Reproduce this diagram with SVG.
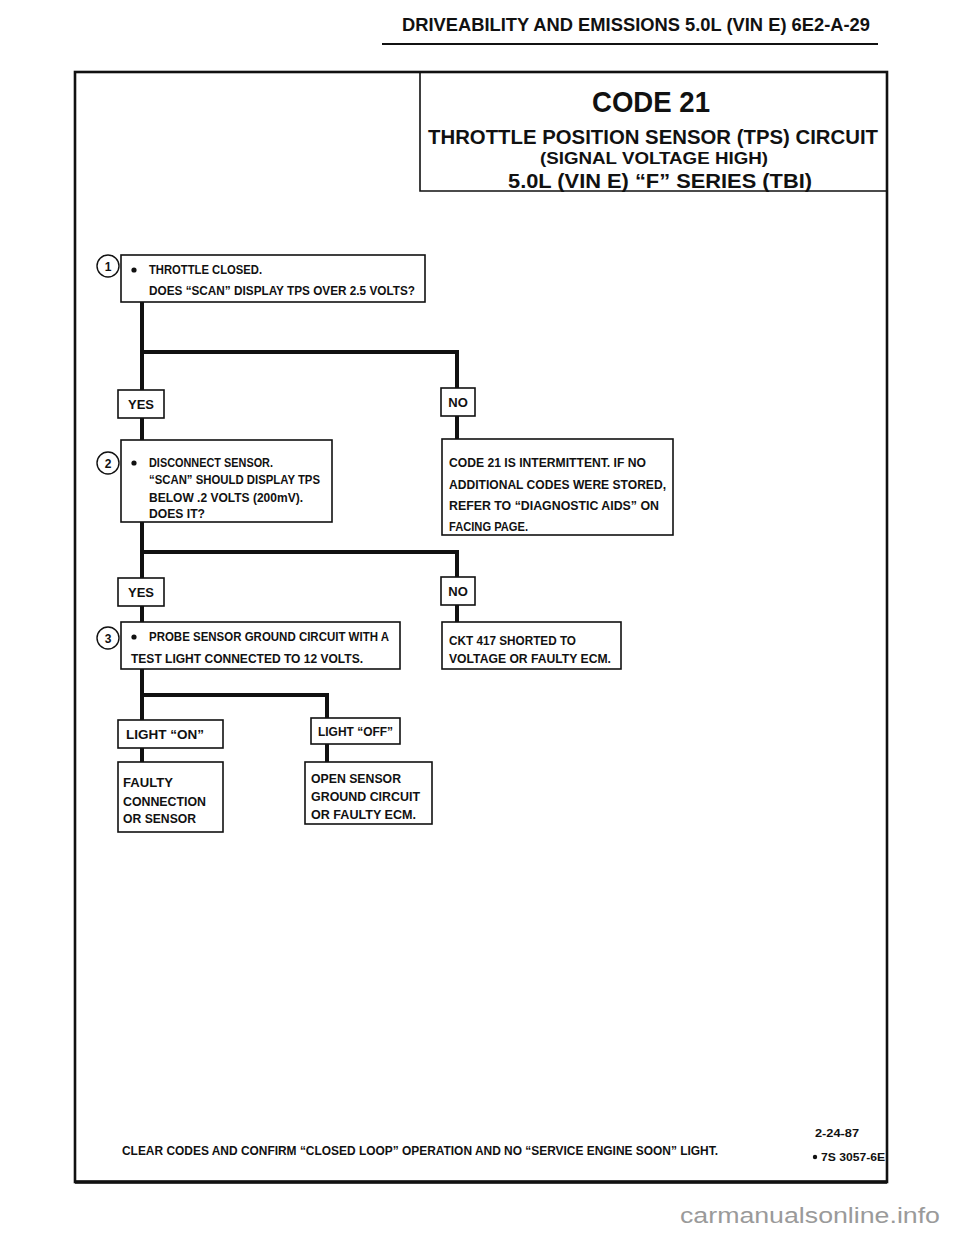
<svg xmlns="http://www.w3.org/2000/svg" width="960" height="1242" viewBox="0 0 960 1242">
<style>
.t{font-family:"Liberation Sans Narrow","Liberation Sans",Arial,sans-serif;font-weight:bold;fill:#111}
.s{font-size:13px}
.box{fill:#fff;stroke:#111;stroke-width:1.6}
.c{fill:#fff;stroke:#111;stroke-width:1.4}
.ln{fill:none;stroke:#111;stroke-width:4;stroke-linejoin:miter}
</style>
<rect width="960" height="1242" fill="#fff"/>
<g id="header">
<text class="t" x="402" y="31" font-size="19" textLength="468" lengthAdjust="spacingAndGlyphs">DRIVEABILITY AND EMISSIONS  5.0L  (VIN E)  6E2-A-29</text>
<line x1="382" y1="44" x2="878" y2="44" stroke="#111" stroke-width="2.2"/>
</g>
<g id="frame">
<rect x="75" y="72" width="812" height="1110" fill="none" stroke="#111" stroke-width="2.6"/>
<line x1="75" y1="1182" x2="887" y2="1182" stroke="#111" stroke-width="3.5"/>
</g>
<g id="title">
<polyline points="420,72 420,191 887,191" fill="none" stroke="#111" stroke-width="1.6"/>
<text class="t" x="592" y="112" font-size="30" textLength="118" lengthAdjust="spacingAndGlyphs">CODE 21</text>
<text class="t" x="428" y="144" font-size="21" textLength="450" lengthAdjust="spacingAndGlyphs">THROTTLE POSITION SENSOR (TPS) CIRCUIT</text>
<text class="t" x="540" y="164" font-size="16" textLength="228" lengthAdjust="spacingAndGlyphs">(SIGNAL VOLTAGE HIGH)</text>
<text class="t" x="508" y="188" font-size="21" textLength="304" lengthAdjust="spacingAndGlyphs">5.0L (VIN E)  “F” SERIES  (TBI)</text>
</g>
<g id="connectors">
<polyline class="ln" points="142,302 142,390"/>
<polyline class="ln" points="142,352 457,352 457,388"/>
<polyline class="ln" points="142,418 142,440"/>
<polyline class="ln" points="457,416 457,439"/>
<polyline class="ln" points="142,522 142,578"/>
<polyline class="ln" points="142,552 457,552 457,577"/>
<polyline class="ln" points="142,606 142,622"/>
<polyline class="ln" points="457,605 457,622"/>
<polyline class="ln" points="142,669 142,720"/>
<polyline class="ln" points="142,695 327,695 327,718"/>
<polyline class="ln" points="142,748 142,762"/>
<polyline class="ln" points="327,744 327,762"/>
</g>
<g id="step1">
<circle class="c" cx="108" cy="266" r="11"/>
<text class="t" x="108" y="270.5" font-size="12" text-anchor="middle">1</text>
<rect class="box" x="121" y="255" width="304" height="47"/>
<circle cx="134" cy="270" r="2.6" fill="#111"/>
<text class="t s" x="149" y="274" textLength="113" lengthAdjust="spacingAndGlyphs">THROTTLE CLOSED.</text>
<text class="t s" x="149" y="295" textLength="266" lengthAdjust="spacingAndGlyphs">DOES “SCAN” DISPLAY TPS OVER 2.5 VOLTS?</text>
</g>
<g id="yes1">
<rect class="box" x="118" y="390" width="46" height="28"/>
<text class="t s" x="141" y="409" text-anchor="middle">YES</text>
</g>
<g id="no1">
<rect class="box" x="441" y="388" width="34" height="28"/>
<text class="t s" x="458" y="407" text-anchor="middle">NO</text>
</g>
<g id="step2">
<circle class="c" cx="108" cy="463" r="11"/>
<text class="t" x="108" y="467.5" font-size="12" text-anchor="middle">2</text>
<rect class="box" x="121" y="440" width="211" height="82"/>
<circle cx="134" cy="463" r="2.6" fill="#111"/>
<text class="t s" x="149" y="467" textLength="124" lengthAdjust="spacingAndGlyphs">DISCONNECT SENSOR.</text>
<text class="t s" x="149" y="484" textLength="171" lengthAdjust="spacingAndGlyphs">“SCAN” SHOULD DISPLAY TPS</text>
<text class="t s" x="149" y="502" textLength="154" lengthAdjust="spacingAndGlyphs">BELOW  .2 VOLTS (200mV).</text>
<text class="t s" x="149" y="518" textLength="56" lengthAdjust="spacingAndGlyphs">DOES IT?</text>
</g>
<g id="intermittent">
<rect class="box" x="442" y="439" width="231" height="96"/>
<text class="t s" x="449" y="467" textLength="197" lengthAdjust="spacingAndGlyphs">CODE 21 IS INTERMITTENT.  IF NO</text>
<text class="t s" x="449" y="489" textLength="217" lengthAdjust="spacingAndGlyphs">ADDITIONAL CODES WERE STORED,</text>
<text class="t s" x="449" y="510" textLength="210" lengthAdjust="spacingAndGlyphs">REFER TO  “DIAGNOSTIC AIDS” ON</text>
<text class="t s" x="449" y="531" textLength="79" lengthAdjust="spacingAndGlyphs">FACING PAGE.</text>
</g>
<g id="yes2">
<rect class="box" x="118" y="578" width="46" height="28"/>
<text class="t s" x="141" y="597" text-anchor="middle">YES</text>
</g>
<g id="no2">
<rect class="box" x="441" y="577" width="34" height="28"/>
<text class="t s" x="458" y="596" text-anchor="middle">NO</text>
</g>
<g id="step3">
<circle class="c" cx="108" cy="638" r="11"/>
<text class="t" x="108" y="642.5" font-size="12" text-anchor="middle">3</text>
<rect class="box" x="121" y="622" width="279" height="47"/>
<circle cx="134" cy="637" r="2.6" fill="#111"/>
<text class="t s" x="149" y="641" textLength="240" lengthAdjust="spacingAndGlyphs">PROBE SENSOR GROUND CIRCUIT WITH A</text>
<text class="t s" x="131" y="663" textLength="232" lengthAdjust="spacingAndGlyphs">TEST LIGHT CONNECTED TO 12 VOLTS.</text>
</g>
<g id="ckt417">
<rect class="box" x="442" y="622" width="179" height="47"/>
<text class="t s" x="449" y="645" textLength="127" lengthAdjust="spacingAndGlyphs">CKT 417 SHORTED TO</text>
<text class="t s" x="449" y="663" textLength="162" lengthAdjust="spacingAndGlyphs">VOLTAGE OR FAULTY ECM.</text>
</g>
<g id="lighton">
<rect class="box" x="118" y="720" width="105" height="28"/>
<text class="t s" x="126" y="739" textLength="78" lengthAdjust="spacingAndGlyphs">LIGHT “ON”</text>
</g>
<g id="lightoff">
<rect class="box" x="311" y="718" width="89" height="26"/>
<text class="t s" x="318" y="736" textLength="75" lengthAdjust="spacingAndGlyphs">LIGHT “OFF”</text>
</g>
<g id="faulty">
<rect class="box" x="118" y="762" width="105" height="70"/>
<text class="t s" x="123" y="787" textLength="50" lengthAdjust="spacingAndGlyphs">FAULTY</text>
<text class="t s" x="123" y="806" textLength="83" lengthAdjust="spacingAndGlyphs">CONNECTION</text>
<text class="t s" x="123" y="823" textLength="73" lengthAdjust="spacingAndGlyphs">OR  SENSOR</text>
</g>
<g id="opensensor">
<rect class="box" x="305" y="762" width="127" height="62"/>
<text class="t s" x="311" y="783" textLength="90" lengthAdjust="spacingAndGlyphs">OPEN SENSOR</text>
<text class="t s" x="311" y="801" textLength="109" lengthAdjust="spacingAndGlyphs">GROUND CIRCUIT</text>
<text class="t s" x="311" y="819" textLength="105" lengthAdjust="spacingAndGlyphs">OR FAULTY ECM.</text>
</g>
<g id="footer">
<text class="t" x="122" y="1155" font-size="12.5" textLength="596" lengthAdjust="spacingAndGlyphs">CLEAR CODES AND CONFIRM “CLOSED LOOP”  OPERATION AND NO “SERVICE ENGINE SOON” LIGHT.</text>
<text class="t" x="815" y="1137" font-size="11.5" textLength="44" lengthAdjust="spacingAndGlyphs">2-24-87</text>
<circle cx="815" cy="1157" r="2.2" fill="#111"/>
<text class="t" x="821" y="1161" font-size="11.5" textLength="64" lengthAdjust="spacingAndGlyphs">7S 3057-6E</text>
</g>
<g id="watermark">
<text x="680" y="1223" font-family="'Liberation Sans',Arial,sans-serif" font-size="22" fill="#9a9a9a" textLength="260" lengthAdjust="spacingAndGlyphs">carmanualsonline.info</text>
</g>
</svg>
